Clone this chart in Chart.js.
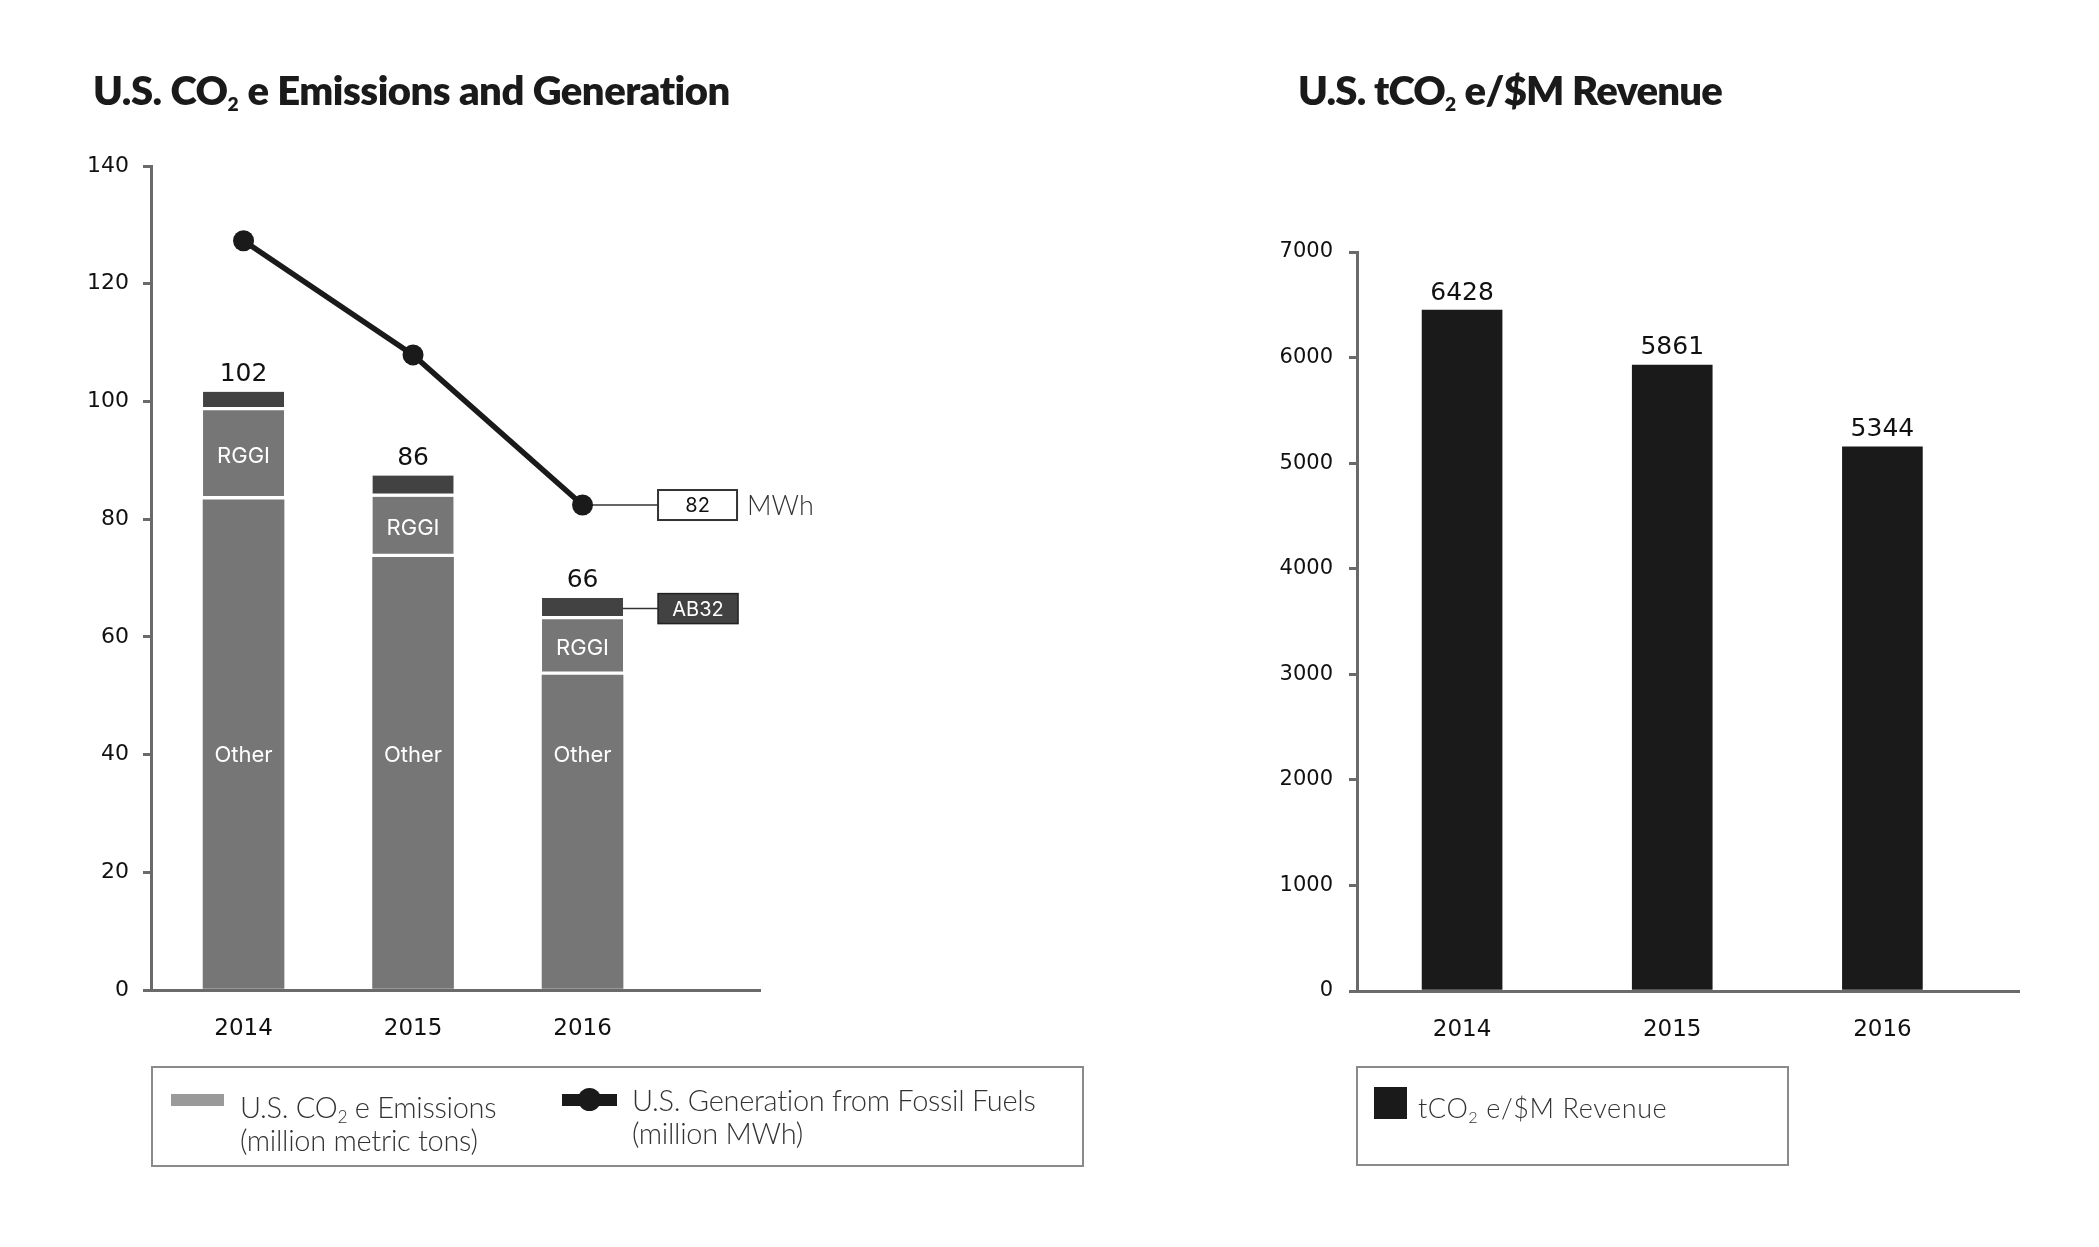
<!DOCTYPE html>
<html>
<head>
<meta charset="utf-8">
<script src="https://cdn.jsdelivr.net/npm/chart.js@4.4.1/dist/chart.umd.min.js"></script>
<style>
  html, body { margin:0; padding:0; background:#fff; }
  body { width:2099px; height:1247px; position:relative; overflow:hidden; }
  canvas { position:absolute; top:0; }
  .title { position:absolute; font-family:'Lato', sans-serif; font-weight:800; font-size:40px; line-height:40px; color:#1a1a1a; letter-spacing:-0.5px; white-space:nowrap; z-index:2; }
  .title .sub { font-size:0.48em; position:relative; top:6px; letter-spacing:0; }
  .legend-box { position:absolute; border:2px solid #8a8a8a; box-sizing:border-box; z-index:2; }
  .ltext { position:absolute; font-family:'Lato', sans-serif; font-weight:300; font-size:29px; line-height:33px; color:#333; white-space:nowrap; z-index:3; letter-spacing:-0.3px; }
  .ltext .sub { font-size:0.6em; position:relative; top:5px; line-height:0; }
  .sw { position:absolute; z-index:3; }
</style>
</head>
<body>
<div class="title" style="left:93px; top:70px;">U.S. CO<span class="sub">2</span> e Emissions and Generation</div>
<div class="title" style="left:1298px; top:70px; letter-spacing:-0.8px;">U.S. tCO<span class="sub">2</span> e/$M Revenue</div>

<canvas id="leftChart" width="1100" height="1247" style="left:0; width:1100px; height:1247px;"></canvas>
<canvas id="rightChart" width="999" height="1247" style="left:1100px; width:999px; height:1247px;"></canvas>

<div class="legend-box" style="left:151px; top:1066px; width:933px; height:101px;"></div>
<div class="sw" style="left:171px; top:1094px; width:53px; height:12px; background:#9a9a9a;"></div>
<div class="ltext" style="left:240px; top:1090px;">U.S. CO<span class="sub">2</span> e Emissions<br>(million metric tons)</div>
<div class="sw" style="left:562px; top:1094px; width:55px; height:12px; background:#1a1a1a;"></div>
<div class="sw" style="left:578px; top:1088px; width:23px; height:23px; border-radius:50%; background:#1a1a1a;"></div>
<div class="ltext" style="left:632px; top:1083px;">U.S. Generation from Fossil Fuels<br>(million MWh)</div>

<div class="legend-box" style="left:1356px; top:1066px; width:433px; height:100px;"></div>
<div class="sw" style="left:1374px; top:1087px; width:33px; height:32px; background:#1a1a1a;"></div>
<div class="ltext" style="left:1418px; top:1091px; font-size:27px; letter-spacing:0.6px;">tCO<span class="sub">2</span> e/$M Revenue</div>

<script>
// ---------- data ----------
const years = ['2014', '2015', '2016'];
const segmentNames = ['Other', 'RGGI', 'AB32'];
const otherEmissions = [83.3, 73.5, 53.5];
const rggiEmissions = [15.2, 10.3, 9.5];
const ab32Emissions = [3.15, 3.6, 3.6];
const emissionTotalLabels = ['102', '86', '66'];
const fossilGeneration = [127.3, 107.9, 82.4];
const generationCalloutLabel = '82';
const generationUnit = 'MWh';
const revenueIntensity = [6450, 5930, 5155];
const revenueLabels = ['6428', '5861', '5344'];

const toPoints = arr => arr.map((v, i) => ({ x: i, y: v }));
const AXIS = '#6a6a6a';
const NUM_FONT = 'DejaVu Sans';

// ---------- left chart plugin ----------
const leftDecor = {
  id: 'leftDecor',
  beforeDatasetsDraw(chart) {
    const { ctx } = chart;
    const xs = chart.scales.x, ys = chart.scales.y;
    const last = years.length - 1;
    const px = xs.getPixelForValue(last);
    const boxLeft = px + 75.5;
    ctx.save();
    ctx.strokeStyle = '#333';
    ctx.lineWidth = 1.5;
    const gy = ys.getPixelForValue(fossilGeneration[last]);
    ctx.beginPath(); ctx.moveTo(px, gy); ctx.lineTo(boxLeft, gy); ctx.stroke();
    const ay = ys.getPixelForValue(otherEmissions[last] + rggiEmissions[last] + ab32Emissions[last] / 2);
    ctx.beginPath(); ctx.moveTo(px + 30, ay); ctx.lineTo(boxLeft, ay); ctx.stroke();
    ctx.restore();
  },
  afterDatasetsDraw(chart) {
    const { ctx } = chart;
    const xs = chart.scales.x, ys = chart.scales.y;
    ctx.save();
    ctx.textAlign = 'center';
    years.forEach((_, i) => {
      const x = xs.getPixelForValue(i);
      const total = otherEmissions[i] + rggiEmissions[i] + ab32Emissions[i];
      ctx.fillStyle = '#111';
      ctx.font = '25px "' + NUM_FONT + '"';
      ctx.textBaseline = 'alphabetic';
      ctx.fillText(emissionTotalLabels[i], x, ys.getPixelForValue(total) - 11);
      ctx.fillStyle = '#fff';
      ctx.font = '22px Inter';
      ctx.textBaseline = 'middle';
      ctx.fillText(segmentNames[1], x, ys.getPixelForValue(otherEmissions[i] + rggiEmissions[i] / 2) + 1);
      ctx.fillText(segmentNames[0], x, ys.getPixelForValue(40) + 1);
    });
    const last = years.length - 1;
    const px = xs.getPixelForValue(last);
    const boxLeft = px + 75.5;
    const gy = ys.getPixelForValue(fossilGeneration[last]);
    ctx.fillStyle = '#fff';
    ctx.strokeStyle = '#333';
    ctx.lineWidth = 2;
    ctx.fillRect(boxLeft, gy - 15, 79, 30);
    ctx.strokeRect(boxLeft, gy - 15, 79, 30);
    ctx.fillStyle = '#111';
    ctx.font = '20px Inter';
    ctx.fillText(generationCalloutLabel, boxLeft + 39.5, gy + 1);
    ctx.textAlign = 'left';
    ctx.fillStyle = '#333';
    ctx.font = '300 27px Lato';
    ctx.fillText(generationUnit, boxLeft + 89, gy + 1);
    const ay = ys.getPixelForValue(otherEmissions[last] + rggiEmissions[last] + ab32Emissions[last] / 2);
    ctx.fillStyle = '#424242';
    ctx.strokeStyle = '#222';
    ctx.lineWidth = 1.5;
    ctx.fillRect(boxLeft, ay - 15, 80, 30);
    ctx.strokeRect(boxLeft, ay - 15, 80, 30);
    ctx.fillStyle = '#fff';
    ctx.textAlign = 'center';
    ctx.font = '20px Inter';
    ctx.fillText(segmentNames[2], boxLeft + 40, ay + 1);
    ctx.restore();
  }
};

const rightDecor = {
  id: 'rightDecor',
  afterDatasetsDraw(chart) {
    const { ctx } = chart;
    const xs = chart.scales.x, ys = chart.scales.y;
    ctx.save();
    ctx.textAlign = 'center';
    ctx.textBaseline = 'alphabetic';
    ctx.fillStyle = '#111';
    ctx.font = '25px "' + NUM_FONT + '"';
    revenueIntensity.forEach((v, i) => {
      ctx.fillText(revenueLabels[i], xs.getPixelForValue(i), ys.getPixelForValue(v) - 10.5);
    });
    ctx.restore();
  }
};

const xTicks = s => { s.ticks = years.map((_, i) => ({ value: i })); };
const xTickOpts = { callback: v => years[v] ?? '', font: { family: NUM_FONT, size: 23 }, color: '#111', padding: 25, autoSkip: false, maxRotation: 0 };

new Chart(document.getElementById('leftChart'), {
  type: 'bar',
  data: {
    datasets: [
      { type: 'line', label: 'U.S. Generation from Fossil Fuels', data: toPoints(fossilGeneration), yAxisID: 'yLine',
        borderColor: '#1a1a1a', backgroundColor: '#1a1a1a', borderWidth: 5.5, pointRadius: 10.5, pointHoverRadius: 10.5,
        pointBorderWidth: 0, tension: 0, order: 0 },
      { label: segmentNames[0], data: toPoints(otherEmissions), backgroundColor: '#767676', borderWidth: 0, barThickness: 81, order: 1 },
      { label: segmentNames[1], data: toPoints(rggiEmissions), backgroundColor: '#767676', borderColor: '#ffffff',
        borderWidth: { top: 0, left: 0, right: 0, bottom: 4 }, borderSkipped: false, barThickness: 81, order: 1 },
      { label: segmentNames[2], data: toPoints(ab32Emissions), backgroundColor: '#424242', borderColor: '#ffffff',
        borderWidth: { top: 0, left: 0, right: 0, bottom: 3.5 }, borderSkipped: false, barThickness: 81, order: 1 }
    ]
  },
  options: {
    responsive: false, animation: false, devicePixelRatio: 1,
    layout: { padding: { left: 0, top: 166, right: 340, bottom: 197 } },
    plugins: { legend: { display: false }, tooltip: { enabled: false } },
    scales: {
      x: { type: 'linear', stacked: true, offset: false, min: -0.546, max: 3.047,
        grid: { display: false, drawTicks: false },
        border: { display: true, color: AXIS, width: 3 },
        afterBuildTicks: xTicks,
        ticks: xTickOpts,
        afterFit: s => { s.height = 60; } },
      y: { stacked: true, min: 0, max: 140,
        ticks: { stepSize: 20, font: { family: NUM_FONT, size: 22 }, color: '#111', padding: 14 },
        grid: { drawOnChartArea: false, tickLength: 8, color: AXIS, lineWidth: 3 },
        border: { color: AXIS, width: 3 },
        afterFit: s => { s.width = 151; } },
      yLine: { display: false, min: 0, max: 140 }
    }
  },
  plugins: [leftDecor]
});

new Chart(document.getElementById('rightChart'), {
  type: 'bar',
  data: {
    datasets: [
      { label: 'tCO2 e/$M Revenue', data: toPoints(revenueIntensity), backgroundColor: '#1a1a1a', borderWidth: 0, barThickness: 80 }
    ]
  },
  options: {
    responsive: false, animation: false, devicePixelRatio: 1,
    layout: { padding: { left: 0, top: 252, right: 80, bottom: 196 } },
    plugins: { legend: { display: false }, tooltip: { enabled: false } },
    scales: {
      x: { type: 'linear', offset: false, min: -0.5, max: 2.65,
        grid: { display: false, drawTicks: false },
        border: { display: true, color: AXIS, width: 3 },
        afterBuildTicks: xTicks,
        ticks: xTickOpts,
        afterFit: s => { s.height = 60; } },
      y: { min: 0, max: 7000,
        ticks: { stepSize: 1000, callback: v => String(v), font: { family: NUM_FONT, size: 21 }, color: '#111', padding: 16 },
        grid: { drawOnChartArea: false, tickLength: 8, color: AXIS, lineWidth: 3 },
        border: { color: AXIS, width: 3 },
        afterFit: s => { s.width = 257; } }
    }
  },
  plugins: [rightDecor]
});
</script>
</body>
</html>
